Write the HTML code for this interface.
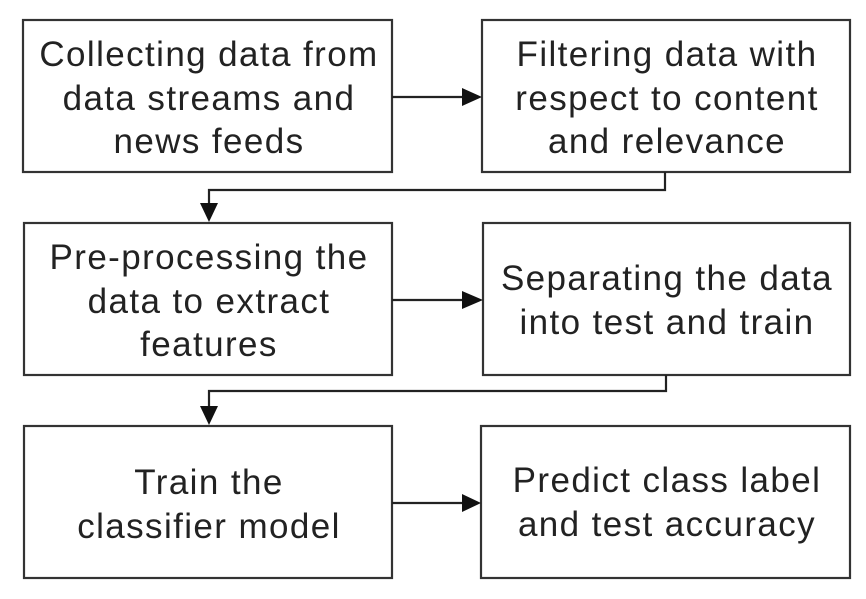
<!DOCTYPE html>
<html><head><style>
body{margin:0;background:#fff;}
svg text{font-family:"Liberation Sans",Arial,sans-serif;font-size:35px;letter-spacing:1.4px;fill:#222;text-anchor:middle;}
</style></head><body>
<svg width="866" height="594" viewBox="0 0 866 594">
<g fill="none" stroke="#333" stroke-width="2.2">
<rect x="23" y="20" width="369" height="152"/>
<rect x="482" y="20" width="368" height="152"/>
<rect x="24" y="223" width="368" height="152"/>
<rect x="483" y="223" width="367" height="152"/>
<rect x="24" y="426" width="368" height="152"/>
<rect x="481" y="426" width="369" height="152"/>
<path d="M392 97H464M665 172V190H209V205M392 300H464M666 375V391H209V408M392 503H464" stroke="#222"/>
</g>
<g fill="#111">
<path d="M462 88L482 97L462 106Z"/>
<path d="M462 291L483 300L462 309Z"/>
<path d="M462 494L481 503L462 512Z"/>
<path d="M200 203L218 203L209 222Z"/>
<path d="M200 406L218 406L209 425Z"/>
</g>
<text x="209" y="66">Collecting data from</text>
<text x="209" y="110">data streams and</text>
<text x="209" y="153">news feeds</text>
<text x="667" y="66">Filtering data with</text>
<text x="667" y="110">respect to content</text>
<text x="667" y="153">and relevance</text>
<text x="209" y="269">Pre-processing the</text>
<text x="209" y="313">data to extract</text>
<text x="209" y="356">features</text>
<text x="667" y="290">Separating the data</text>
<text x="667" y="334">into test and train</text>
<text x="209" y="494">Train the</text>
<text x="209" y="538">classifier model</text>
<text x="667" y="492">Predict class label</text>
<text x="667" y="536">and test accuracy</text>
</svg>
</body></html>
